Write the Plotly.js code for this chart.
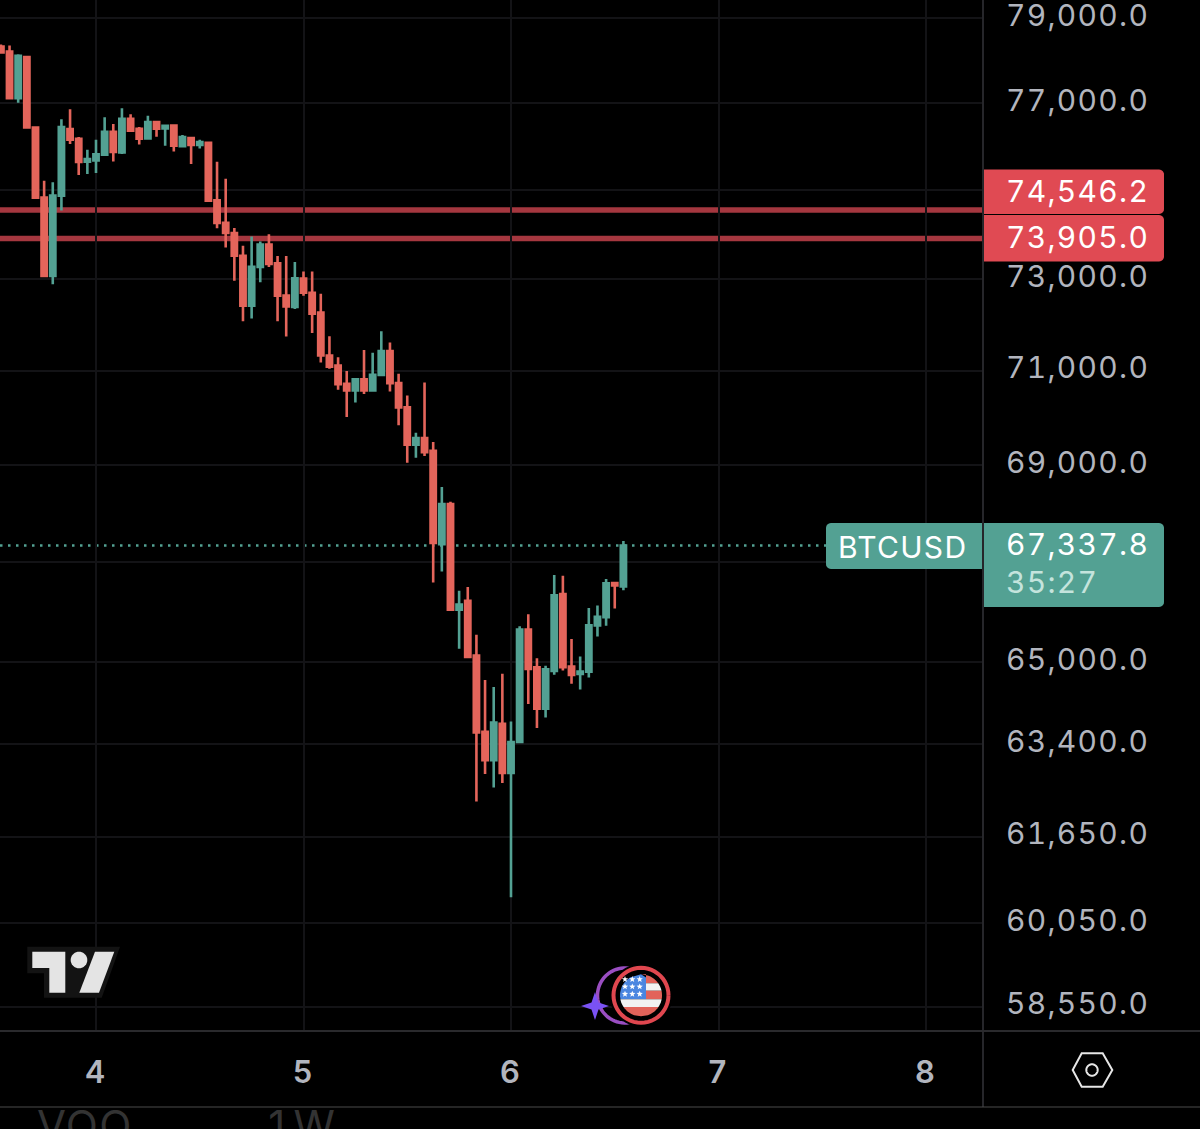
<!DOCTYPE html>
<html><head><meta charset="utf-8">
<script src="https://cdn.plot.ly/plotly-3.0.1.min.js"></script>
<style>html,body{margin:0;padding:0;background:#000;overflow:hidden}#c{width:1200px;height:1129px}
.ytick text,.annotation-text{letter-spacing:1.3px;font-variant-numeric:tabular-nums;font-feature-settings:"tnum" 1}</style>
</head><body><div id="c"></div>
<script>
const times=['2026-02-03 13:00','2026-02-03 14:00','2026-02-03 15:00','2026-02-03 16:00','2026-02-03 17:00','2026-02-03 18:00','2026-02-03 19:00','2026-02-03 20:00','2026-02-03 21:00','2026-02-03 22:00','2026-02-03 23:00',
'2026-02-04 00:00','2026-02-04 01:00','2026-02-04 02:00','2026-02-04 03:00','2026-02-04 04:00','2026-02-04 05:00','2026-02-04 06:00','2026-02-04 07:00','2026-02-04 08:00','2026-02-04 09:00','2026-02-04 10:00','2026-02-04 11:00','2026-02-04 12:00','2026-02-04 13:00','2026-02-04 14:00','2026-02-04 15:00','2026-02-04 16:00','2026-02-04 17:00','2026-02-04 18:00','2026-02-04 19:00','2026-02-04 20:00','2026-02-04 21:00','2026-02-04 22:00','2026-02-04 23:00',
'2026-02-05 00:00','2026-02-05 01:00','2026-02-05 02:00','2026-02-05 03:00','2026-02-05 04:00','2026-02-05 05:00','2026-02-05 06:00','2026-02-05 07:00','2026-02-05 08:00','2026-02-05 09:00','2026-02-05 10:00','2026-02-05 11:00','2026-02-05 12:00','2026-02-05 13:00','2026-02-05 14:00','2026-02-05 15:00','2026-02-05 16:00','2026-02-05 17:00','2026-02-05 18:00','2026-02-05 19:00','2026-02-05 20:00','2026-02-05 21:00','2026-02-05 22:00','2026-02-05 23:00',
'2026-02-06 00:00','2026-02-06 01:00','2026-02-06 02:00','2026-02-06 03:00','2026-02-06 04:00','2026-02-06 05:00','2026-02-06 06:00','2026-02-06 07:00','2026-02-06 08:00','2026-02-06 09:00','2026-02-06 10:00','2026-02-06 11:00','2026-02-06 12:00','2026-02-06 13:00'];
const opens=[78329,78211,77111,78079,76432,74824,73070,74869,76395,76172,75643,75673,75804,76333,75857,76632,76402,76179,76556,76409,76478,75997,76188,76029,76080,74766,74257,74027,73518,72413,73270,73767,73351,72638,72385,73009,72697,72261,71330,71110,70719,70577,70818,70577,70910,71425,70734,70216,69425,69566,69296,67366,68190,66042,66216,65128,63640,63097,63796,62851,63445,65642,64899,64088,64827,66356,64911,64769,64813,65728,65888,66576,66508];
const highs=[78376,78352,78149,78090,76455,75206,75175,76625,76855,76211,75919,76149,76671,76510,76878,76740,76441,76701,76565,76480,76494,76257,76195,76149,76085,75643,75252,74139,73742,73945,73833,73999,73511,73511,73376,73170,73170,72675,71744,71290,70995,70840,71445,71386,71855,71612,70937,70471,69680,70746,69481,68540,68237,66422,66496,65542,64646,64510,64769,63841,65708,65948,65076,64930,66736,66722,65456,65108,66074,66126,66656,66585,67428];
const lows=[78156,77094,77007,76420,74820,73041,72886,74533,76050,75337,75360,75383,75790,75650,75820,76333,76041,76170,76218,76011,75880,75990,75590,75949,74750,74130,73704,72965,72071,72130,72930,73270,72071,71738,72341,72631,71818,71177,71044,70592,70013,70322,70500,70570,70905,70555,69835,69050,69154,69191,66588,66808,66036,65262,65096,62312,62832,62578,62661,60528,63440,64179,63713,63919,64749,64833,64574,64463,64697,65508,65722,66062,66428];
const closes=[78187,77111,78109,76432,74824,73070,74869,76441,76149,75636,75705,75811,76333,75866,76632,76356,76172,76556,76402,76471,76011,76211,76029,76096,74757,74251,74027,73518,72413,73270,73767,73337,72631,72398,73017,72697,72239,71330,71088,70712,70577,70818,70577,70910,71425,70734,70216,69425,69566,69269,67387,68190,66042,66142,65102,63627,63097,63821,62851,63445,65642,64866,64088,64860,66328,64899,64749,64813,65728,65896,66568,66528,67337.8];
const priceTicks=[79000,77000,75000,73000,71000,69000,67000,65000,63400,61650,60050,58550];
const priceTickText=['79,000.0','77,000.0','','73,000.0','71,000.0','69,000.0','','65,000.0','63,400.0','61,650.0','60,050.0','58,550.0'];
const alertLevels=[74546.2,73905.0];
const alertLabels=['74,546.2','73,905.0'];
const symbol='BTCUSD', lastPrice=67337.8, lastLabel='67,337.8', countdown='35:27';

const W=1200,H=1129,PR=983,PB=1031;
const UP='#53a193',DOWN='#e4655b',RED='#e04a53',LABEL='#b2b5be';
const px=x=>x/PR, py=y=>(PB-y)/PB;
const F='Inter, "Noto Sans", sans-serif';
const shapes=[];
function pathShape(d,o){shapes.push(Object.assign({type:'path',xref:'paper',yref:'paper',path:d,layer:'above',line:{width:0}},o));}
function P(x,y){return px(x).toFixed(5)+','+py(y).toFixed(5);}
function poly(pts){return 'M'+pts.map(p=>P(p[0],p[1])).join('L')+'Z';}
function roundBox(x0,y0,x1,y1,rL,rR,fill){
  const pts=[];
  const arc=(cx,cy,r,a0,a1)=>{if(r<=0){pts.push([cx,cy]);return;}for(let k=0;k<=6;k++){const a=a0+(a1-a0)*k/6;pts.push([cx+r*Math.cos(a),cy+r*Math.sin(a)]);}};
  arc(x0+rL,y0+rL,rL,Math.PI,1.5*Math.PI);
  arc(x1-rR,y0+rR,rR,1.5*Math.PI,2*Math.PI);
  arc(x1-rR,y1-rR,rR,0,.5*Math.PI);
  arc(x0+rL,y1-rL,rL,.5*Math.PI,Math.PI);
  pathShape(poly(pts),{fillcolor:fill});
}
function ring(cx,cy,r,color,w,a0=0,a1=2*Math.PI){
  const pts=[];for(let k=0;k<=48;k++){const a=a0+(a1-a0)*k/48;pts.push([cx+r*Math.cos(a),cy+r*Math.sin(a)]);}
  pathShape('M'+pts.map(p=>P(p[0],p[1])).join('L'),{line:{color:color,width:w},fillcolor:'rgba(0,0,0,0)'});
}
function disc(cx,cy,r,fill){
  const pts=[];for(let k=0;k<36;k++){const a=2*Math.PI*k/36;pts.push([cx+r*Math.cos(a),cy+r*Math.sin(a)]);}
  pathShape(poly(pts),{fillcolor:fill});
}
function star5(cx,cy,r,fill){
  const pts=[];for(let k=0;k<10;k++){const a=-Math.PI/2+Math.PI*k/5;const q=k%2?r*.42:r;pts.push([cx+q*Math.cos(a),cy+q*Math.sin(a)]);}
  pathShape(poly(pts),{fillcolor:fill});
}
function hline(x0,x1,y,color,w,extra){shapes.push(Object.assign({type:'line',xref:'paper',yref:'paper',x0:px(x0),x1:px(x1),y0:py(y),y1:py(y),line:{color:color,width:w},layer:'above'},extra||{}));}
function vline(x,y0,y1,color,w){shapes.push({type:'line',xref:'paper',yref:'paper',x0:px(x),x1:px(x),y0:py(y0),y1:py(y1),line:{color:color,width:w},layer:'above'});}

// alert lines (behind candles), last price dots
alertLevels.forEach(v=>shapes.push({type:'line',xref:'paper',yref:'y',x0:0,x1:1,y0:v,y1:v,line:{color:'#a5373f',width:5.5},layer:'below'}));
shapes.push({type:'line',xref:'paper',yref:'y',x0:0,x1:px(826),y0:lastPrice,y1:lastPrice,line:{color:UP,width:2.5,dash:'2.5px,5.5px'},layer:'below'});

// frame
vline(983,0,1107,'#26262a',2);
hline(0,1200,1031,'#2a2a2d',2);
hline(0,1200,1107,'#4a4a4a',1);

// price labels
roundBox(984,169.5,1164,214,0,5,RED);
roundBox(984,215,1164,261.5,0,5,RED);
roundBox(826,523,982,569,5,0,UP);
roundBox(984,523,1164,607,0,5,UP);

// logo
pathShape(poly([[27.3,946.7],[120,946.7],[101.7,997.7],[44,997.7],[44,973.3],[27.3,973.3]]),{fillcolor:'#131313'});
pathShape(poly([[32.3,951.7],[65.3,951.7],[65.3,992.7],[49.3,992.7],[49.3,968],[32.3,968]]),{fillcolor:'#e4e4e4'});
disc(79,960,8.3,'#e4e4e4');
pathShape(poly([[95,951.7],[114.3,951.7],[99,992.7],[79.3,992.7]]),{fillcolor:'#e4e4e4'});

// event icon
ring(625,995.5,27.5,'#9a4ec2',3.5,.3*Math.PI,1.72*Math.PI);
disc(641,995.3,31.5,'#000');
ring(641,995.3,27.5,'#e0474f',4);
const cx=641,cy=995.3,r=21;
function band(y0,y1,xmin,xmax,fill){
  const L=[],R=[];const n=8;
  for(let k=0;k<=n;k++){const y=y0+(y1-y0)*k/n;const d=Math.sqrt(Math.max(0,r*r-(y-cy)*(y-cy)));L.push([Math.max(xmin,cx-d),y]);R.push([Math.min(xmax,cx+d),y]);}
  pathShape(poly(L.concat(R.reverse())),{fillcolor:fill});
}
band(974.3,999.3,600,646,'#4a86e0');
band(974.3,983.3,646,680,'#e2635a');
band(983.3,990.7,646,680,'#f2f2f2');
band(990.7,999.3,646,680,'#e2635a');
band(999.3,1007,600,680,'#f2f2f2');
band(1007,1016.3,600,680,'#e2635a');
[625,632.3,639.7].forEach(x=>[979.3,986.7,994].forEach(y=>star5(x,y,3.3,'#ffffff')));
pathShape('M'+[[595,992],[598.5,1002.5],[609,1006],[598.5,1009.5],[595,1020],[591.5,1009.5],[581,1006],[591.5,1002.5]].map(p=>P(p[0],p[1])).join('L')+'Z',{fillcolor:'#7a52f4'});

// settings hexagon
pathShape(poly([[1072.7,1070],[1081.7,1053.3],[1102.7,1053.3],[1112.3,1070],[1102.7,1086.7],[1081.7,1086.7]]),{line:{color:'#e6e6e6',width:2},fillcolor:'rgba(0,0,0,0)'});
ring(1092,1070,5.7,'#e6e6e6',2);

const ann=(x,y,text,size,color,anchor)=>({xref:'paper',yref:'paper',x:px(x),y:py(y),text:text,showarrow:false,xanchor:anchor||'left',yanchor:'middle',align:'left',font:{family:F,size:size,color:color},borderpad:0,borderwidth:0});
const annotations=[
 ann(1006,191,alertLabels[0],30,'#ffffff'),
 ann(1006,237,alertLabels[1],30,'#ffffff'),
 ann(1006,544,lastLabel,30,'#ffffff'),
 ann(1006,582,countdown,30,'#c4e4dd'),
 ann(838,547,symbol,30,'#ffffff'),
 ann(37,1125,'VOO',42,'#333333'),
 ann(265,1125,'1W',42,'#333333')
];

const trace={type:'candlestick',x:times,open:opens,high:highs,low:lows,close:closes,
 whiskerwidth:0,hoverinfo:'skip',
 increasing:{line:{color:UP,width:2.6},fillcolor:UP},
 decreasing:{line:{color:DOWN,width:2.6},fillcolor:DOWN}};

const DAY=86400000, day6=Date.UTC(2026,1,6);
const toStr=ms=>new Date(ms).toISOString().slice(0,19).replace('T',' ');
const layout={width:W,height:H,paper_bgcolor:'#000',plot_bgcolor:'#000',showlegend:false,
 margin:{l:0,r:W-PR,t:0,b:H-PB,pad:0},boxgap:.39,boxgroupgap:0,
 xaxis:{type:'date',rangeslider:{visible:false},range:[toStr(day6-511/207.5*DAY),toStr(day6+472/207.5*DAY)],
  tick0:'2026-02-04',dtick:DAY,tickformat:'%-d',showgrid:true,gridcolor:'#131316',gridwidth:2,zeroline:false,showline:false,ticks:'',
  ticklabelstandoff:20,ticklabelshift:-1,tickfont:{family:F,size:31,color:LABEL,weight:600}},
 yaxis:{type:'log',side:'right',range:[4.76436,4.90005],tickmode:'array',tickvals:priceTicks,ticktext:priceTickText,showgrid:true,gridcolor:'#131316',gridwidth:2,zeroline:false,showline:false,ticks:'',
  ticklabelstandoff:22,ticklabelshift:-3,ticklabeloverflow:'allow',tickfont:{family:F,size:30,color:LABEL}},
 shapes:shapes,annotations:annotations};
Plotly.newPlot('c',[trace],layout,{displayModeBar:false,staticPlot:true});
</script></body></html>
